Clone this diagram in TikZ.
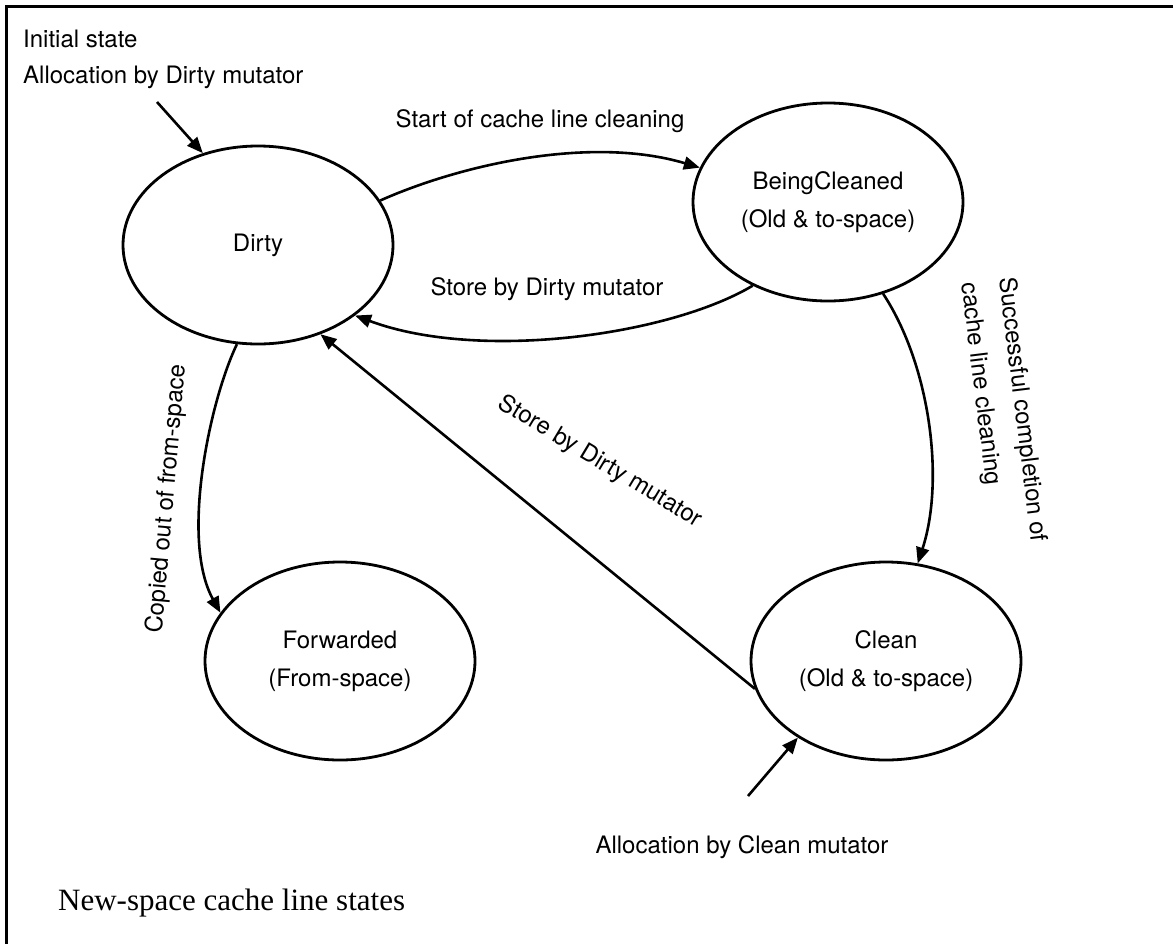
\documentclass[tikz,border=0pt]{standalone}
\usepackage{fontspec}
\setmainfont{TeX Gyre Heros}
\newfontfamily\titlefont{Liberation Serif}
\usetikzlibrary{arrows.meta,shapes.geometric}
\newcommand\lblfont{\fontsize{24}{38}\selectfont}
\begin{document}
\begin{tikzpicture}[x=1pt,y=-1pt,
  state/.style={draw, line width=2.8pt, ellipse, minimum width=270pt, minimum height=198pt, inner sep=0pt, align=center, font=\lblfont},
  trans/.style={line width=2.6pt, -{Triangle[length=16pt,width=13pt]}},
  lbl/.style={font=\lblfont, inner sep=0pt}]
\useasboundingbox (0,0) rectangle (1173,943);
\clip (0,0) rectangle (1173,943);
\draw[line width=3pt] (6.5,6.5) rectangle (1190,960);

\node[state] (dirty) at (258,245) {Dirty};
\node[state] (bc) at (828,202) {BeingCleaned\\(Old \& to-space)};
\node[state] (fwd) at (340,661) {Forwarded\\(From-space)};
\node[state] (clean) at (886,661) {Clean\\(Old \& to-space)};

\coordinate (initstart) at (157,102);
\coordinate (allocstart) at (748,796);

\node[lbl, anchor=base west] (l1) at (23,47) {Initial state};
\node[lbl, anchor=base west] (l2) at (23,83.5) {Allocation by Dirty mutator};
\node[lbl, anchor=base] (l3) at (540,127) {Start of cache line cleaning};
\node[lbl, anchor=base] (l4) at (547,295) {Store by Dirty mutator};
\node[lbl, rotate=-31] (l5) at (600,462) {Store by Dirty mutator};
\node[lbl, rotate=85] (l6) at (167,499) {Copied out of from-space};
\node[lbl, rotate=-83, align=left] (l7) at (1003,412) {Successful completion of\\cache line cleaning};
\node[lbl, anchor=base] (l8) at (742,853) {Allocation by Clean mutator};
\node[anchor=base west, inner sep=0pt, font=\titlefont\fontsize{31}{36}\selectfont] (title) at (58,910) {New-space cache line states};

\draw[trans] (initstart) -- (dirty.121);
\draw[trans] (allocstart) -- (clean.221);
\draw[trans] (dirty.20) .. controls (460,165) and (590,135) .. (bc.165);
\draw[trans] (bc.-132) .. controls (670,335) and (480,362) .. (dirty.-36);
\draw[trans] (clean.192) -- (dirty.-55);
\draw[trans] (dirty.-102) .. controls (210,400) and (180,540) .. (fwd.158);
\draw[trans] (bc.-59) .. controls (930,365) and (945,480) .. (clean.72);
\end{tikzpicture}
\end{document}
